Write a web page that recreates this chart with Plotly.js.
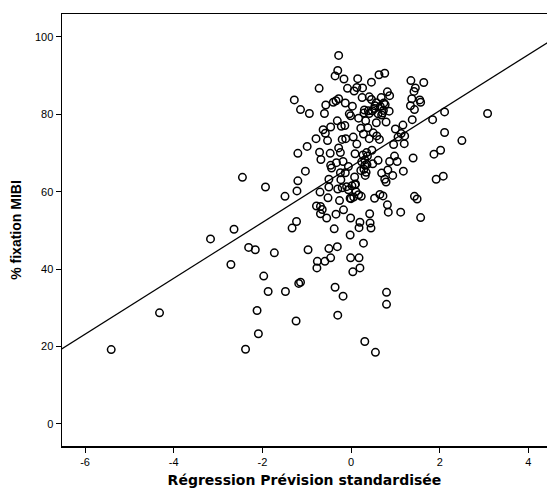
<!DOCTYPE html>
<html>
<head>
<meta charset="utf-8">
<script src="https://cdn.plot.ly/plotly-3.0.1.min.js"></script>
<style>html,body{margin:0;padding:0;background:#fff;}#chart{width:547px;height:491px;}</style>
</head>
<body>
<div id="chart"></div>
<script>
// Standardised predicted value (x) and % MIBI fixation (y)
const predX = [
-5.41,-4.32,-3.17,-2.71,-2.64,-2.45,-2.38,-2.31,-2.16,-2.12,-2.09,-1.97,-1.93,-1.87,-1.73,-1.49,-1.48,-1.33,-1.28,-1.24,
-1.23,-1.22,-1.20,-1.20,-1.18,-1.14,-1.14,-1.03,-0.99,-0.97,-0.94,-0.79,-0.78,-0.77,-0.76,-0.72,-0.71,-0.70,-0.69,-0.69,
-0.68,-0.65,-0.63,-0.60,-0.58,-0.57,-0.59,-0.55,-0.53,-0.52,-0.50,-0.50,-0.50,-0.46,-0.46,-0.47,-0.44,-0.40,-0.38,-0.36,
-0.36,-0.34,-0.33,-0.31,-0.31,-0.30,-0.30,-0.28,-0.30,-0.28,-0.28,-0.26,-0.24,-0.24,-0.23,-0.22,-0.20,-0.18,-0.18,-0.17,
-0.16,-0.14,-0.13,-0.13,-0.12,-0.10,-0.08,-0.06,-0.04,-0.02,-0.01,-0.01,-0.02,-0.01,0.00,0.02,0.03,0.04,0.05,0.06,
0.07,0.08,0.09,0.09,0.11,0.13,0.13,0.15,0.17,0.17,0.18,0.18,0.20,0.20,0.22,0.23,0.24,0.25,0.26,0.28,
0.28,0.29,0.30,0.31,0.31,0.32,0.33,0.35,0.36,0.38,0.39,0.41,0.42,0.43,0.45,0.46,0.46,0.47,0.48,0.49,
0.50,0.53,0.54,0.55,0.57,0.58,0.61,0.61,0.63,0.64,0.65,0.66,0.68,0.69,0.71,0.72,0.74,0.76,0.76,0.79,
0.80,0.80,0.82,0.82,0.83,0.84,0.87,0.87,0.94,0.96,0.98,1.00,1.04,1.06,1.12,1.13,1.17,1.18,1.20,1.21,
1.34,1.35,1.37,1.38,1.40,1.42,1.43,1.45,1.43,1.49,1.55,1.57,1.57,1.64,1.84,1.87,1.92,2.02,2.08,2.11,
2.11,2.50,3.08,
0.31,0.22,0.37,0.10,-0.06,0.41,0.53,0.57,0.69,0.73,0.77,0.41,0.29,-0.34,-0.46,0.79,0.86,-0.20,0.27,0.34
];
const fixY = [
19.2,28.7,47.8,41.2,50.3,63.7,19.3,45.6,45.0,29.3,23.3,38.2,61.2,34.2,44.2,58.8,34.2,50.6,83.7,26.6,
52.3,60.2,62.8,69.9,36.3,36.6,81.2,65.3,71.7,45.0,80.2,73.7,56.3,40.3,42.0,86.7,70.2,59.9,54.3,56.2,
68.3,55.4,76.0,80.2,75.1,82.4,42.0,53.2,73.2,58.4,61.2,45.3,63.2,76.7,42.9,69.9,66.1,83.1,50.4,89.9,
35.3,54.2,67.5,78.3,45.8,91.3,28.1,95.2,60.7,71.3,84.0,57.7,64.9,70.1,63.1,76.9,73.5,67.8,33.0,55.3,
89.1,77.1,82.9,64.9,73.7,61.3,86.7,66.5,80.1,58.3,79.6,53.2,48.8,42.9,58.2,61.5,82.1,39.3,74.1,58.6,
86.0,63.8,61.8,69.8,60.0,86.9,72.3,89.2,79.0,59.2,42.9,50.7,52.1,40.3,76.4,58.8,67.7,84.3,86.8,46.7,
74.9,65.8,81.1,21.3,68.2,64.2,78.3,70.1,67.0,76.5,80.9,73.7,54.3,51.9,50.6,88.3,83.8,70.7,80.9,67.2,
75.2,58.3,82.2,18.5,77.8,74.4,80.1,68.1,90.2,73.5,59.3,82.0,84.3,64.8,80.3,58.9,82.9,90.6,63.2,62.5,
34.0,30.9,56.6,85.8,65.6,54.7,84.8,67.8,64.2,72.2,69.2,76.2,67.8,74.1,54.7,75.0,77.2,65.3,72.4,74.4,
82.2,88.7,84.0,78.6,68.7,85.9,58.8,86.8,81.2,58.1,83.7,83.1,53.3,88.2,78.6,69.7,63.2,70.7,64.0,80.6,
75.3,73.2,80.2,
66.8,65.5,69.2,62.0,60.5,80.2,81.5,83.0,79.8,81.0,82.5,84.5,80.3,83.5,66.8,78.0,80.8,61.0,69.5,65.0
];
// Fitted regression line
const fitIntercept = 66.5;
const fitSlope = 7.22;
const fitX = [-6.8, 4.6];
const fitY = fitX.map(x => fitIntercept + fitSlope * x);

const xTicks = [-6, -4, -2, 0, 2, 4];
const yTicks = [0, 20, 40, 60, 80, 100];

const data = [
  {
    x: fitX, y: fitY, type: 'scatter', mode: 'lines',
    line: {color: '#000', width: 1.2}, hoverinfo: 'skip', showlegend: false
  },
  {
    x: predX, y: fixY, type: 'scatter', mode: 'markers',
    marker: {symbol: 'circle-open', size: 7.5, color: '#000', line: {color: '#000', width: 1.5}},
    showlegend: false
  }
];

const tickFont = {size: 11, family: 'Liberation Sans, Arial, sans-serif', color: '#000'};

const layout = {
  width: 547, height: 491,
  margin: {l: 62, r: 0, t: 14, b: 45},
  paper_bgcolor: '#fff', plot_bgcolor: '#fff',
  font: {family: 'Liberation Sans, Arial, sans-serif', color: '#000', size: 11},
  xaxis: {
    range: [-6.52, 4.42], tickvals: xTicks, ticktext: xTicks.map(String),
    ticks: 'outside', ticklen: 5, tickwidth: 1, tickcolor: '#000',
    showline: true, linecolor: '#000', linewidth: 1.5, mirror: true,
    showgrid: false, zeroline: false,
    tickfont: tickFont,
    title: {text: 'Régression Prévision standardisée', standoff: 8,
            font: {size: 14, family: 'DejaVu Sans, Verdana, sans-serif', weight: 'bold', color: '#000'}}
  },
  yaxis: {
    range: [-5.7, 105.9], tickvals: yTicks, ticktext: yTicks.map(String),
    ticks: 'outside', ticklen: 5, tickwidth: 1, tickcolor: '#000',
    showline: true, linecolor: '#000', linewidth: 1.5, mirror: false,
    showgrid: false, zeroline: false,
    tickfont: tickFont,
    title: {text: '% fixation MIBI', standoff: 10,
            font: {size: 14, family: 'Liberation Sans, Arial, sans-serif', weight: 'bold', color: '#000'}}
  }
};

Plotly.newPlot('chart', data, layout, {staticPlot: true, displayModeBar: false});
</script>
</body>
</html>
